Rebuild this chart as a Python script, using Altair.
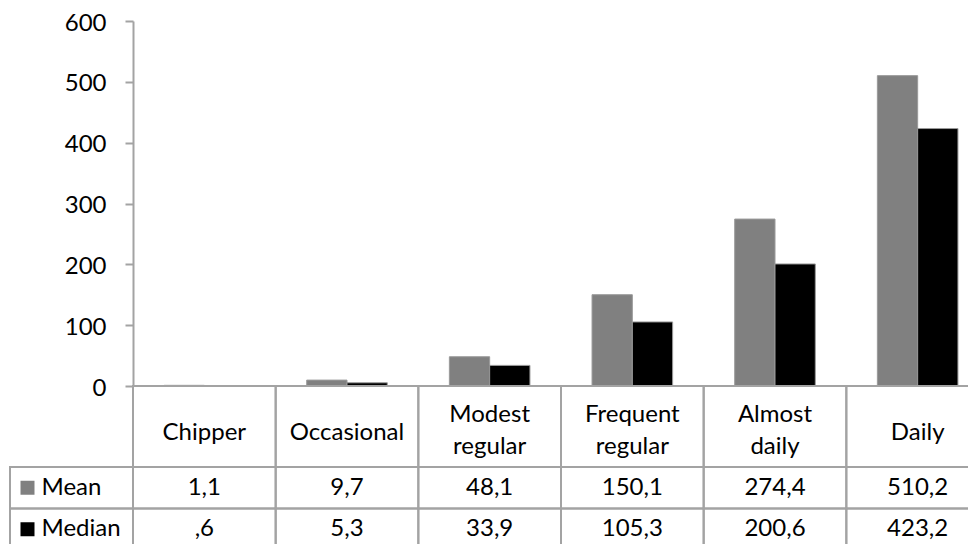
import altair as alt
import pandas as pd

# ---------------- data ----------------
categories = ["Chipper", "Occasional", "Modest regular", "Frequent regular", "Almost daily", "Daily"]
series = ["Mean", "Median"]
mean_values = [1.1, 9.7, 48.1, 150.1, 274.4, 510.2]
median_values = [0.6, 5.3, 33.9, 105.3, 200.6, 423.2]
y_ticks = [0, 100, 200, 300, 400, 500, 600]
series_colors = ["#808080", "#000000"]


def fmt(v):
    s = f"{v:.1f}".replace(".", ",")
    return s[1:] if s.startswith("0,") else s


rows = []
for c, m, md in zip(categories, mean_values, median_values):
    rows.append({"category": c, "series": "Mean", "value": m, "label": fmt(m)})
    rows.append({"category": c, "series": "Median", "value": md, "label": fmt(md)})
long_df = pd.DataFrame(rows)
header_df = pd.DataFrame({"category": categories, "row": ["header"] * len(categories)})
side_df = pd.DataFrame({"series": series, "col": ["label"] * len(series)})

# ---------------- layout / style ----------------
FONT = "Lato"
FS = 24
LINE = "#a3a3a3"
LW = 2
# whole chart kept inside the 960x536 page area; the table, like the
# original, runs past the right and bottom edges and is clipped there
PLOT_W, PLOT_H = 835, 523
X_RANGE = [0, 856]
BAR_RANGE = [365, 0]
HEADER_RANGE = [365, 446]
ROWS_RANGE = [446, 529]
LABEL_COL_RANGE = [-123, 0]

band0 = dict(paddingInner=0, paddingOuter=0)
x_cat = alt.X("category:N", sort=categories,
              scale=alt.Scale(domain=categories, range=X_RANGE, **band0), axis=None)
y_header = alt.Y("row:N", scale=alt.Scale(domain=["header"], range=HEADER_RANGE, **band0), axis=None)
y_rows = alt.Y("series:N", sort=series,
               scale=alt.Scale(domain=series, range=ROWS_RANGE, **band0), axis=None)
x_label_col = alt.X("col:N", scale=alt.Scale(domain=["label"], range=LABEL_COL_RANGE, **band0),
                    axis=None)
color = alt.Color("series:N", scale=alt.Scale(domain=series, range=series_colors), legend=None)

bars = alt.Chart(long_df).mark_bar(stroke="#9a9a9a", strokeWidth=1, clip=True).encode(
    x=x_cat,
    xOffset=alt.XOffset("series:N", sort=series,
                        scale=alt.Scale(domain=series, paddingInner=0, paddingOuter=0.77)),
    y=alt.Y("value:Q",
            scale=alt.Scale(domain=[0, 600], range=BAR_RANGE, nice=False, zero=True),
            axis=alt.Axis(values=y_ticks, title=None, grid=False,
                          domainColor=LINE, domainWidth=LW,
                          tickColor=LINE, tickWidth=LW, tickSize=8,
                          labelFont=FONT, labelFontSize=FS, labelColor="black",
                          labelPadding=19, labelOffset=2)),
    color=color,
)

cell_style = dict(fill="white", fillOpacity=0, stroke=LINE, strokeWidth=LW, strokeOpacity=1)
inner = alt.FieldOneOfPredicate(field="category", oneOf=categories[:-1])
last = alt.FieldOneOfPredicate(field="category", oneOf=categories[-1:])

header_cells = alt.Chart(header_df).transform_filter(inner).mark_rect(**cell_style).encode(
    x=x_cat, y=y_header)
header_cells_last = alt.Chart(header_df).transform_filter(last).mark_rect(
    clip=True, **cell_style).encode(x=x_cat, y=y_header)
value_cells = alt.Chart(long_df).transform_filter(inner).mark_rect(**cell_style).encode(
    x=x_cat, y=y_rows)
value_cells_last = alt.Chart(long_df).transform_filter(last).mark_rect(
    clip=True, **cell_style).encode(x=x_cat, y=y_rows)
label_cells = alt.Chart(side_df).mark_rect(**cell_style).encode(x=x_label_col, y=y_rows)

text_style = dict(font=FONT, fontSize=FS, color="black", baseline="middle")
header_single = alt.Chart(header_df).transform_filter(
    "indexof(datum.category, ' ') < 0"
).mark_text(dy=6, **text_style).encode(x=x_cat, y=y_header, text="category:N")
header_double = alt.Chart(header_df).transform_filter(
    "indexof(datum.category, ' ') >= 0"
).mark_text(dy=-12, lineBreak=" ", lineHeight=32, **text_style).encode(
    x=x_cat, y=y_header, text="category:N")

value_text = alt.Chart(long_df).mark_text(**text_style).encode(
    x=x_cat, y=y_rows, text="label:N")

label_text = alt.Chart(side_df).mark_text(align="left", dx=-30, **text_style).encode(
    x=x_label_col, y=y_rows, text="series:N")
label_keys = alt.Chart(side_df).mark_square(filled=True, size=196, opacity=1, xOffset=-44).encode(
    x=x_label_col, y=y_rows, color=color)

chart = alt.layer(
    bars, header_cells, header_cells_last, value_cells, value_cells_last, label_cells,
    header_single, header_double, value_text, label_text, label_keys
).resolve_scale(
    x="independent", y="independent"
).properties(
    width=PLOT_W, height=PLOT_H,
    autosize=alt.AutoSizeParams(type="none"),
    padding={"left": 125, "top": 13, "right": 0, "bottom": 0},
    background="white",
).configure_view(stroke=None)

chart.save("out.html", embed_options={"renderer": "svg", "actions": False})
